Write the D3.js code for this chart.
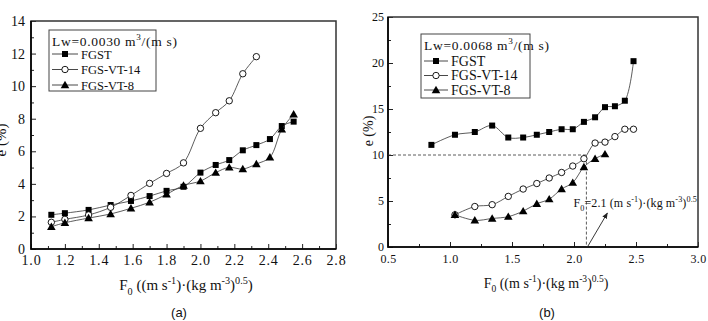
<!DOCTYPE html>
<html>
<head>
<meta charset="utf-8">
<script src="https://cdn.jsdelivr.net/npm/d3@7"></script>
<style>
body { margin: 0; background: #fff; }
svg { display: block; }
text { font-family: "Liberation Serif", "Times New Roman", serif; fill: #111; }
</style>
</head>
<body>
<svg id="chart" width="708" height="321"></svg>
<script>
// ---- panel (a): Lw = 0.0030
const aF = [1.12, 1.20, 1.34, 1.47, 1.59, 1.70, 1.80, 1.90, 2.00, 2.09, 2.17, 2.25, 2.33, 2.41, 2.48, 2.55];
const aFGST = [2.1, 2.2, 2.4, 2.7, 2.95, 3.25, 3.57, 3.82, 4.69, 5.16, 5.46, 6.06, 6.38, 6.75, 7.55, 7.82];
const aVT14 = [1.64, 1.82, 2.09, 2.56, 3.29, 4.03, 4.64, 5.29, 7.41, 8.37, 9.10, 10.76, 11.81];
const aVT8 = [1.37, 1.61, 1.90, 2.15, 2.50, 2.87, 3.36, 3.90, 4.17, 4.69, 5.01, 4.91, 5.22, 5.63, 7.35, 8.27];
const aXTicks = [1.0, 1.2, 1.4, 1.6, 1.8, 2.0, 2.2, 2.4, 2.6, 2.8];
const aYTicks = [0, 2, 4, 6, 8, 10, 12, 14];

// ---- panel (b): Lw = 0.0068
const bF = [0.85, 1.04, 1.20, 1.34, 1.47, 1.59, 1.70, 1.80, 1.90, 1.99, 2.08, 2.17, 2.25, 2.33, 2.41, 2.48];
const bFGST = [11.1, 12.2, 12.5, 13.2, 11.9, 11.9, 12.2, 12.5, 12.8, 12.8, 13.6, 14.1, 15.2, 15.3, 15.9, 20.2];
const bVT14 = [3.5, 4.4, 4.6, 5.5, 6.3, 6.9, 7.5, 8.1, 8.8, 9.6, 11.3, 11.4, 12.0, 12.8, 12.8];
const bVT8 = [3.5, 2.9, 3.1, 3.3, 3.9, 4.7, 5.2, 6.3, 7.0, 8.7, 9.6, 10.1];
const bXTicks = [0.5, 1.0, 1.5, 2.0, 2.5, 3.0];
const bYTicks = [0, 5, 10, 15, 20, 25];
const bMark = {f: 2.1, e: 10};

const seriesNames = ["FGST", "FGS-VT-14", "FGS-VT-8"];
const symbols = ["square", "circle", "triangle"];

const svg = d3.select("#chart");

// text with sub/superscripts; dy is carried over so no empty spans are needed
function rich(sel, parts, size) {
    let cur = 0;
    sel.selectAll("tspan").remove();
    parts.forEach(p => {
        const sh = p.sup ? -0.42 * size : p.sub ? 0.3 * size : 0;
        sel.append("tspan")
            .attr("dy", sh - cur)
            .style("font-size", (p.sup || p.sub) ? size * 0.68 + "px" : size + "px")
            .text(p.t);
        cur = sh;
    });
    return sel;
}

const axisLabel = [
    {t: "F"}, {t: "0", sub: true}, {t: " ((m s"}, {t: "-1", sup: true},
    {t: ")\u00b7(kg m"}, {t: "-3", sup: true}, {t: ")"}, {t: "0.5", sup: true}, {t: ")"}
];

function marker(g, kind, x, y) {
    if (kind === "square") {
        g.append("rect").attr("x", x - 3).attr("y", y - 3).attr("width", 6).attr("height", 6)
            .attr("fill", "#000");
    } else if (kind === "circle") {
        g.append("circle").attr("cx", x).attr("cy", y).attr("r", 3.2)
            .attr("fill", "#fff").attr("stroke", "#000").attr("stroke-width", 0.9);
    } else {
        g.append("path").attr("d", `M${x},${y - 4.2}L${x + 4.3},${y + 3.2}L${x - 4.3},${y + 3.2}Z`)
            .attr("fill", "#000");
    }
}

function drawPanel(cfg) {
    const x = d3.scaleLinear().domain(cfg.xDomain).range([cfg.left, cfg.right]);
    const y = d3.scaleLinear().domain(cfg.yDomain).range([cfg.bottom, cfg.top]);
    const g = svg.append("g");

    // minor ticks
    g.append("g").attr("transform", `translate(0,${cfg.bottom})`)
        .call(d3.axisBottom(x).tickValues(cfg.xMinor).tickSize(-3).tickFormat(""));
    g.append("g").attr("transform", `translate(${cfg.left},0)`)
        .call(d3.axisLeft(y).tickValues(cfg.yMinor).tickSize(-3).tickFormat(""));
    g.selectAll("text").remove();

    const xa = g.append("g").attr("transform", `translate(0,${cfg.bottom})`)
        .call(d3.axisBottom(x).tickValues(cfg.xTicks).tickSize(-5).tickPadding(cfg.xPad)
            .tickFormat(d3.format(".1f")));
    const ya = g.append("g").attr("transform", `translate(${cfg.left},0)`)
        .call(d3.axisLeft(y).tickValues(cfg.yTicks).tickSize(-5).tickPadding(cfg.yPad)
            .tickFormat(d3.format("d")));
    g.selectAll(".domain").remove();
    g.selectAll(".tick line").attr("stroke", "#222").attr("stroke-width", 1);
    [xa, ya].forEach(a => a.selectAll("text")
        .style("font-family", '"Liberation Serif", serif')
        .style("font-size", cfg.tickSize + "px").attr("fill", "#222"));
    xa.selectAll("text").style("letter-spacing", cfg.xSpacing + "px");

    // frame
    g.append("rect").attr("x", cfg.left).attr("y", cfg.top)
        .attr("width", cfg.right - cfg.left).attr("height", cfg.bottom - cfg.top)
        .attr("fill", "none").attr("stroke", "#333").attr("stroke-width", 1.5);
    g.append("path").attr("d", `M${cfg.left},${cfg.top}V${cfg.bottom}H${cfg.right}`)
        .attr("fill", "none").attr("stroke", "#000").attr("stroke-width", 1.6);

    if (cfg.extra) cfg.extra(g, x, y);

    const line = d3.line().x(d => x(d[0])).y(d => y(d[1])).curve(d3.curveCatmullRom.alpha(0.5));
    cfg.series.forEach((s, i) => {
        const pts = s.map((v, j) => [cfg.f[j + (cfg.offsets[i] || 0)], v]);
        g.append("path").attr("d", line(pts)).attr("fill", "none")
            .attr("stroke", "#333").attr("stroke-width", 0.8);
        pts.forEach(p => marker(g, symbols[i], x(p[0]), y(p[1])));
    });

    // legend
    const L = cfg.legend;
    g.append("rect").attr("x", L.x).attr("y", L.y).attr("width", L.w).attr("height", L.h)
        .attr("fill", "#fff").attr("stroke", "#444").attr("stroke-width", 1);
    rich(g.append("text").attr("x", L.x + 3).attr("y", L.y + 16).style("letter-spacing", "0.7px"),
        [{t: cfg.lw + " m"}, {t: "3", sup: true}, {t: "/(m s)"}], 13.5);
    seriesNames.forEach((n, i) => {
        const yy = L.y + L.row0 + i * L.dy;
        g.append("line").attr("x1", L.x + 3).attr("x2", L.x + 3 + L.lineW)
            .attr("y1", yy).attr("y2", yy).attr("stroke", "#333").attr("stroke-width", 0.9);
        marker(g, symbols[i], L.x + 3 + L.lineW / 2, yy);
        g.append("text").attr("x", L.x + 6 + L.lineW).attr("y", yy + 4.5)
            .style("font-size", L.font + "px").text(n);
    });

    // axis titles
    rich(g.append("text").attr("x", cfg.xLab[0]).attr("y", cfg.xLab[1]).attr("text-anchor", "middle"),
        axisLabel, cfg.labSize);
    g.append("text").attr("transform", `translate(${cfg.yLab[0]},${cfg.yLab[1]}) rotate(-90)`)
        .attr("text-anchor", "middle").style("font-size", cfg.labSize + "px").text("e (%)");
    g.append("text").attr("x", cfg.tag[0]).attr("y", cfg.tag[1]).attr("text-anchor", "middle")
        .style("font-family", '"Liberation Sans", Arial, sans-serif').style("font-size", "13px")
        .text(cfg.tagText);
}

drawPanel({
    left: 31, right: 336, top: 21, bottom: 249,
    xDomain: [1.0, 2.8], yDomain: [0, 14],
    xTicks: aXTicks, xMinor: d3.range(1.1, 2.8, 0.2), yTicks: aYTicks, yMinor: d3.range(1, 14, 2),
    xPad: 6, yPad: 6, tickSize: 14, xSpacing: 0.8,
    f: aF, series: [aFGST, aVT14, aVT8], offsets: [0, 0, 0],
    lw: "Lw=0.0030",
    legend: {x: 49, y: 30, w: 107, h: 61, row0: 24, dy: 15.5, lineW: 26, font: 12.5},
    xLab: [186, 290], yLab: [6, 140], labSize: 15,
    tag: [179, 317], tagText: "(a)"
});

drawPanel({
    left: 388, right: 698, top: 17, bottom: 247,
    xDomain: [0.5, 3.0], yDomain: [0, 25],
    xTicks: bXTicks, xMinor: d3.range(0.75, 3.0, 0.5), yTicks: bYTicks, yMinor: d3.range(2.5, 25, 5),
    xPad: 7, yPad: 4, tickSize: 12, xSpacing: 0.3,
    f: bF, series: [bFGST, bVT14, bVT8], offsets: [0, 1, 1],
    lw: "Lw=0.0068",
    legend: {x: 421, y: 34, w: 109, h: 64, row0: 27, dy: 14.5, lineW: 24, font: 14},
    xLab: [546, 288], yLab: [373, 131], labSize: 14,
    tag: [547, 317], tagText: "(b)",
    extra: (g, x, y) => {
        g.append("path")
            .attr("d", `M${x(0.5)},${y(bMark.e)}H${x(bMark.f)}V${y(0)}`)
            .attr("fill", "none").attr("stroke", "#333").attr("stroke-width", 0.8)
            .attr("stroke-dasharray", "3,2");
        svg.append("defs").append("marker").attr("id", "arr")
            .attr("viewBox", "0 0 10 10").attr("refX", 9).attr("refY", 5)
            .attr("markerWidth", 7).attr("markerHeight", 7).attr("orient", "auto")
            .append("path").attr("d", "M0,1L10,5L0,9Z").attr("fill", "#222");
        g.append("line").attr("x1", x(bMark.f) + 1).attr("y1", y(0))
            .attr("x2", x(bMark.f) + 21).attr("y2", y(0) - 34)
            .attr("stroke", "#222").attr("stroke-width", 0.9).attr("marker-end", "url(#arr)");
        const ann = g.append("text").attr("x", x(bMark.f) - 13).attr("y", 207);
        const annParts = [{t: "F"}, {t: "0", sub: true}, {t: "=2.1 (m s"}, {t: "-1", sup: true},
            {t: ")\u00b7(kg m"}, {t: "-3", sup: true}, {t: ")"}, {t: "0.5", sup: true}];
        rich(ann, annParts, 12);
        // small spacing tweak so the note ends at the panel edge, as in the original
        const nChars = annParts.map(p => p.t).join("").length;
        const w = ann.node().getComputedTextLength();
        const room = 697 - (x(bMark.f) - 13);
        ann.style("letter-spacing", Math.max(-0.4, Math.min(1, (room - w) / nChars)) + "px");
    }
});
</script>
</body>
</html>
